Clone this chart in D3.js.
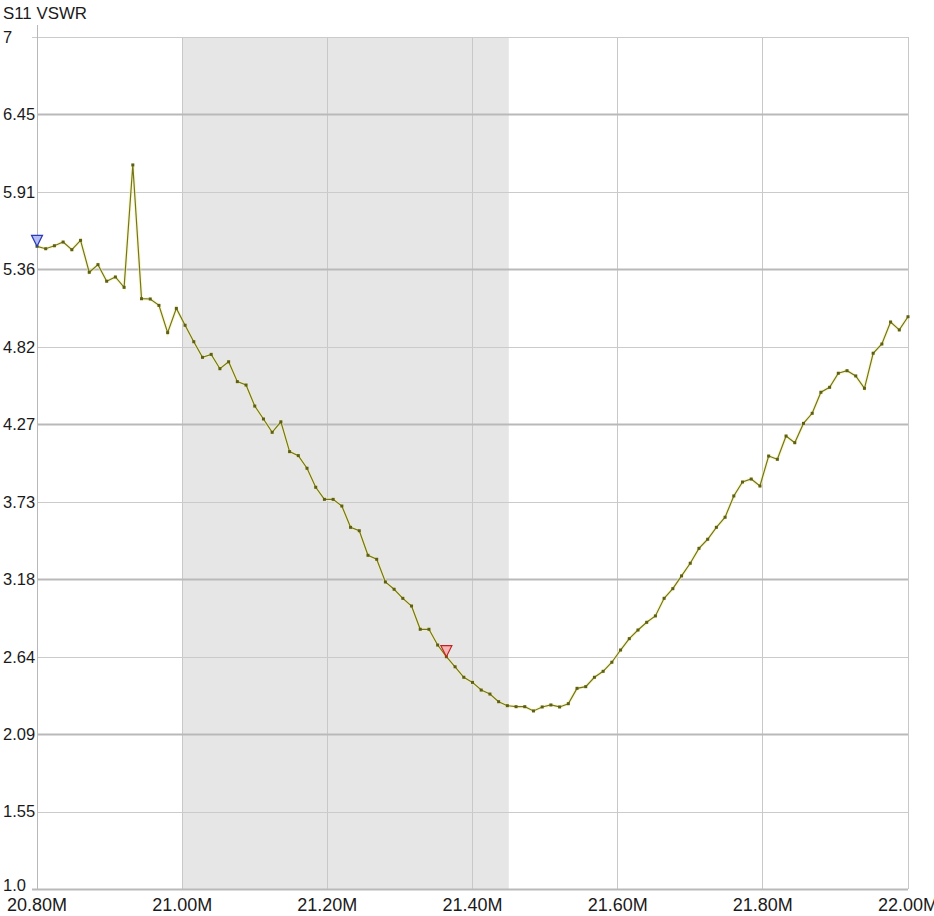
<!DOCTYPE html>
<html>
<head>
<meta charset="utf-8">
<script src="https://cdn.jsdelivr.net/npm/d3@7"></script>
<style>
  html, body { margin: 0; padding: 0; background: #ffffff; }
  svg { display: block; font-family: "Liberation Sans", Arial, sans-serif; }
</style>
</head>
<body>
<svg id="chart" width="934" height="916"></svg>
<script>
// ---- data ----
const title = "S11 VSWR";
const freqStart = 20.8, freqStep = 0.012; // MHz, 101 sweep points
const vswr = [
  5.526, 5.509, 5.530, 5.556, 5.502, 5.568, 5.343, 5.397, 5.280, 5.310,
  5.237, 6.099, 5.157, 5.155, 5.110, 4.918, 5.089, 4.970, 4.854, 4.744,
  4.765, 4.664, 4.713, 4.573, 4.549, 4.401, 4.310, 4.216, 4.290, 4.080,
  4.052, 3.963, 3.829, 3.744, 3.744, 3.697, 3.547, 3.523, 3.350, 3.322,
  3.162, 3.111, 3.047, 2.993, 2.829, 2.829, 2.718, 2.636, 2.565, 2.491,
  2.455, 2.401, 2.373, 2.319, 2.291, 2.284, 2.284, 2.254, 2.282, 2.296,
  2.282, 2.305, 2.413, 2.425, 2.491, 2.533, 2.597, 2.683, 2.763, 2.824,
  2.878, 2.923, 3.047, 3.115, 3.205, 3.294, 3.399, 3.463, 3.547, 3.618,
  3.768, 3.866, 3.887, 3.838, 4.049, 4.026, 4.190, 4.143, 4.279, 4.350,
  4.498, 4.533, 4.632, 4.650, 4.613, 4.526, 4.773, 4.838, 4.993, 4.937,
  5.030
];
const freqs = vswr.map((_, i) => freqStart + i * freqStep);
const xTicks = [20.8, 21.0, 21.2, 21.4, 21.6, 21.8, 22.0];
const xTickLabels = ["20.80M", "21.00M", "21.20M", "21.40M", "21.60M", "21.80M", "22.00M"];
const yTicks = [7, 6.4545, 5.9091, 5.3636, 4.8182, 4.2727, 3.7273, 3.1818, 2.6364, 2.0909, 1.5455, 1.0];
const yTickLabels = ["7", "6.45", "5.91", "5.36", "4.82", "4.27", "3.73", "3.18", "2.64", "2.09", "1.55", "1.0"];
const band = [21.0, 21.45];
const markers = [
  { index: 0, fill: "#b4bcf4", stroke: "#2a3ab8" },
  { index: 47, fill: "#f7b4b4", stroke: "#c02222" }
];

// ---- layout ----
const svg = d3.select("#chart");
const L = 37, R = 908, T = 37, B = 889;
const x = d3.scaleLinear().domain([20.8, 22.0]).range([L, R]);
const y = d3.scaleLinear().domain([1.0, 7]).range([B, T]);

// shaded band
svg.append("rect")
  .attr("x", x(band[0])).attr("y", T)
  .attr("width", x(band[1]) - x(band[0])).attr("height", B - T)
  .attr("fill", "#e6e6e6");

// vertical grid
svg.append("g").selectAll("line").data(xTicks).join("line")
  .attr("x1", d => x(d)).attr("x2", d => x(d))
  .attr("y1", T).attr("y2", B)
  .attr("stroke", "#c8c8c8").attr("stroke-width", 1).attr("shape-rendering", "crispEdges");

// horizontal grid (alternating weights)
svg.append("g").selectAll("line").data(yTicks).join("line")
  .attr("x1", (d, i) => (i === 0 || i === yTicks.length - 1) ? L - 5 : L)
  .attr("x2", R)
  .attr("y1", d => Math.round(y(d)) + 0.5).attr("y2", d => Math.round(y(d)) + 0.5)
  .attr("stroke", (d, i) => (i % 2 === 1) ? "#b9b9b9" : "#cbcbcb")
  .attr("stroke-width", (d, i) => (i % 2 === 1) ? 2 : 1);

// left axis line
svg.append("line")
  .attr("x1", L + 0.5).attr("x2", L + 0.5).attr("y1", 25).attr("y2", B)
  .attr("stroke", "#b8b8b8").attr("stroke-width", 1);

// y labels
svg.append("g").selectAll("text").data(yTicks).join("text")
  .attr("x", 3)
  .attr("y", (d, i) => y(d) + (i === yTicks.length - 1 ? -4 : 0))
  .attr("dy", "0.36em")
  .attr("font-size", 16.5).attr("fill", "#1a1a1a")
  .text((d, i) => yTickLabels[i]);

// x labels
svg.append("g").selectAll("text").data(xTicks).join("text")
  .attr("x", d => x(d)).attr("y", 911)
  .attr("text-anchor", "middle")
  .attr("font-size", 18).attr("fill", "#1a1a1a")
  .text((d, i) => xTickLabels[i]);

// title
svg.append("text").attr("x", 3).attr("y", 19)
  .attr("font-size", 16.5).attr("fill", "#1a1a1a")
  .attr("textLength", 84).attr("lengthAdjust", "spacingAndGlyphs")
  .text(title);

// trace
const pts = freqs.map((f, i) => [f, vswr[i]]);
const line = d3.line().x(d => x(d[0])).y(d => y(d[1]));
svg.append("path").datum(pts).attr("d", line)
  .attr("fill", "none").attr("stroke", "#f4f4a8").attr("stroke-width", 3.5).attr("opacity", 0.5);
svg.append("path").datum(pts).attr("d", line)
  .attr("fill", "none").attr("stroke", "#75741c").attr("stroke-width", 1.2);
svg.append("g").selectAll("rect").data(pts).join("rect")
  .attr("x", d => x(d[0]) - 1.5).attr("y", d => y(d[1]) - 1.5)
  .attr("width", 3).attr("height", 3).attr("fill", "#5e5e14");

// markers
svg.append("g").selectAll("path").data(markers).join("path")
  .attr("d", m => {
    const px = x(freqs[m.index]), py = y(vswr[m.index]);
    return `M${px - 5.5},${py - 11} L${px + 5.5},${py - 11} L${px},${py} Z`;
  })
  .attr("fill", d => d.fill).attr("stroke", d => d.stroke).attr("stroke-width", 1.2);
</script>
</body>
</html>
